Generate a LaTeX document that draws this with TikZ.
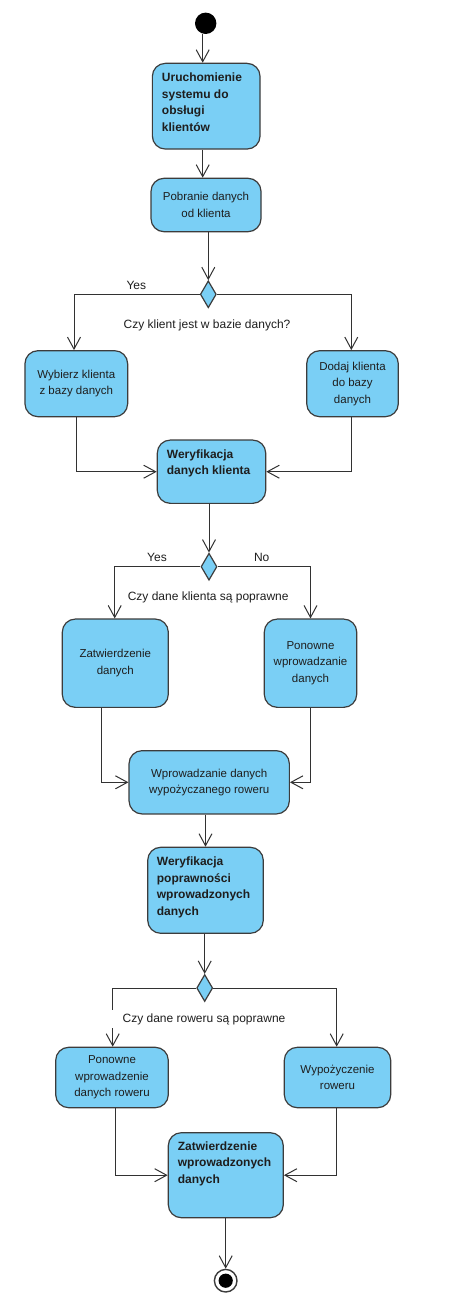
\documentclass[tikz,border=0pt]{standalone}
\usepackage{fontspec}
\setmainfont{Liberation Sans}
\usetikzlibrary{arrows.meta,shapes.geometric}
\definecolor{boxc}{RGB}{122,207,245}
\definecolor{bordc}{RGB}{60,60,60}
\definecolor{linec}{RGB}{50,50,50}
\definecolor{txtc}{RGB}{30,30,30}
\tikzset{
 act/.style={draw=bordc, fill=boxc, rounded corners=13pt, line width=1.2pt, inner sep=0pt, text=txtc, align=center, font=\fontsize{11.5}{16.5}\selectfont},
 btxt/.style={anchor=north west, inner sep=0pt, align=left, text=txtc, font=\fontsize{12}{16.5}\selectfont\bfseries},
 dec/.style={diamond, draw=bordc, fill=boxc, line width=1.2pt, minimum width=16pt, minimum height=27pt, inner sep=0pt},
 arr/.style={draw=linec, line width=1pt, -{Straight Barb[length=12pt,width=13pt]}},
 lbl/.style={text=txtc, font=\fontsize{12}{14}\selectfont, inner sep=0pt}
}
\begin{document}
\begin{tikzpicture}[x=1pt,y=-1pt]
\useasboundingbox[fill=white] (0,0) rectangle (451,1311);
% start
\node[circle, fill=black, minimum size=21.4pt, inner sep=0pt] (start) at (205.7,23.3) {};
% boxes
\node[act, minimum width=107.7pt, minimum height=85.7pt] (b1) at (206.2,106.2) {};
\node[btxt] (t1) at ([xshift=10pt,yshift=-10pt]b1.north west) {Uruchomienie\\systemu do\\obsługi\\klientów};
\node[act, minimum width=110pt, minimum height=53.4pt] (b2) at (206,205) {Pobranie danych\\od klienta};
\node[dec] (d1) at (208.3,294.3) {};
\node[act, minimum width=102.7pt, minimum height=66pt] (b3L) at (76.3,383.7) {Wybierz klienta\\z bazy danych};
\node[act, minimum width=91.6pt, minimum height=66pt] (b3R) at (352.5,383.7) {Dodaj klienta\\do bazy\\danych};
\node[act, minimum width=108.4pt, minimum height=63.3pt] (b4) at (211.5,471.7) {};
\node[btxt] (t4) at ([xshift=10pt,yshift=-10pt]b4.north west) {Weryfikacja\\danych klienta};
\node[dec] (d2) at (209,566.7) {};
\node[act, minimum width=106pt, minimum height=88.3pt] (b5L) at (115.3,663.2) {Zatwierdzenie\\danych};
\node[act, minimum width=92.4pt, minimum height=88.3pt] (b5R) at (310.5,663.2) {Ponowne\\wprowadzanie\\danych};
\node[act, minimum width=160.3pt, minimum height=63.3pt] (b6) at (209.2,782.3) {Wprowadzanie danych\\wypożyczanego roweru};
\node[act, minimum width=115.6pt, minimum height=86pt] (b7) at (205.5,890.3) {};
\node[btxt] (t7) at ([xshift=9.6pt,yshift=-10pt]b7.north west) {Weryfikacja\\poprawności\\wprowadzonych\\danych};
\node[dec] (d3) at (204.7,988) {};
\node[act, minimum width=112.6pt, minimum height=60.4pt] (b8L) at (112,1077.5) {Ponowne\\wprowadzenie\\danych roweru};
\node[act, minimum width=106.4pt, minimum height=60.4pt] (b8R) at (337.5,1077.5) {Wypożyczenie\\roweru};
\node[act, minimum width=115pt, minimum height=85pt] (b9) at (225.8,1175.2) {};
\node[btxt] (t9) at ([xshift=10pt,yshift=-9pt]b9.north west) {Zatwierdzenie\\wprowadzonych\\danych};
% end
\node[circle, draw=bordc, fill=white, line width=1.4pt, minimum size=22.6pt, inner sep=0pt] (end) at (225.7,1280.7) {};
\node[circle, fill=black, minimum size=14.2pt, inner sep=0pt] (endi) at (end) {};
% connectors
\draw[arr] ([xshift=-3pt]start.south) -- ([xshift=-3pt]start.south |- b1.north);
\draw[arr] ([xshift=-3.5pt]b1.south) -- ([xshift=-3.5pt]b1.south |- b2.north);
\draw[arr] (b2.south -| d1) -- (d1.north);
\draw[arr] (d1.west) -| ([xshift=-2.3pt]b3L.north);
\draw[arr] (d1.east) -| ([xshift=-1.2pt]b3R.north);
\draw[arr] ([xshift=0.4pt]b3L.south) |- (b4.west);
\draw[arr] ([xshift=-1.2pt]b3R.south) |- (b4.east);
\draw[arr] (b4.south -| d2) -- (d2.north);
\draw[arr] (d2.west) -| ([xshift=-0.6pt]b5L.north);
\draw[arr] (d2.east) -| (b5R.north);
\draw[arr] ([xshift=-13.6pt]b5L.south) |- (b6.west);
\draw[arr] (b5R.south) |- (b6.east);
\draw[arr] (b6.south -| b7) -- (b7.north);
\draw[arr] (b7.south -| d3) -- (d3.north);
\draw[arr] (d3.west) -| ([xshift=0.7pt]b8L.north);
\draw[arr] (d3.east) -| ([xshift=-0.8pt]b8R.north);
\draw[arr] ([xshift=3pt]b8L.south) |- (b9.west);
\draw[arr] ([xshift=-0.8pt]b8R.south) |- (b9.east);
\draw[arr] (b9.south -| end) -- (end.north);
% labels
\node[lbl] (y1) at (136.3,285.7) {Yes};
\node[lbl] (q1) at (207,325) {Czy klient jest w bazie danych?};
\node[lbl] (y2) at (157,557.7) {Yes};
\node[lbl] (n2) at (261.7,557.7) {No};
\node[lbl] (q2) at (208.2,597.3) {Czy dane klienta są poprawne};
\node[lbl, fill=white, inner xsep=11pt, inner ysep=3pt] (q3) at (204,1019) {Czy dane roweru są poprawne};
\end{tikzpicture}
\end{document}
